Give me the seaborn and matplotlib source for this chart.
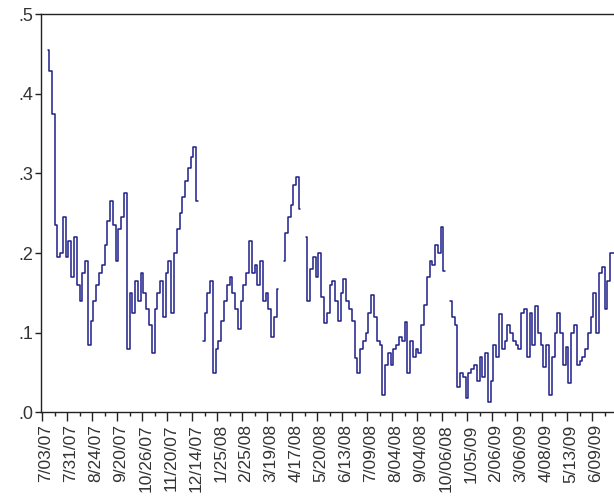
import numpy as np
import pandas as pd
import matplotlib
matplotlib.use("Agg")
import matplotlib.pyplot as plt
import matplotlib.transforms as mtransforms
import seaborn as sns

# one value per two trading days, nan = missing observation
ratio = [
    np.nan, np.nan, .455, .428, .374, .235, .195, .20, .245, .195,
    .215, .17, .22, .16, .14, .175, .19, .085, .115, .14,
    .16, .175, .185, .21, .24, .265, .235, .19, .23, .245,
    .275, .08, .15, .125, .165, .14, .175, .15, .13, .11,
    .075, .13, .15, .165, .12, .175, .19, .125, .20, .23,
    .25, .27, .29, .307, .32, .333, .265, np.nan, .09, .125,
    .15, .165, .05, .08, .09, .115, .14, .16, .17, .15,
    .13, .105, .14, .16, .175, .215, .175, .185, .16, .19,
    .14, .15, .13, .095, .12, .155, np.nan, .19, .225, .245,
    .26, .285, .295, .255, np.nan, .22, .14, .18, .195, .17,
    .20, .145, .112, .125, .16, .165, .14, .115, .15, .167,
    .14, .13, .115, .068, .05, .08, .09, .10, .125, .148,
    .12, .09, .085, .022, .06, .075, .06, .08, .085, .095,
    .09, .114, .05, .09, .07, .08, .075, .11, .135, .17,
    .19, .185, .21, .20, .233, .178, np.nan, .14, .12, .11,
    .032, .05, .045, .018, .05, .055, .06, .04, .07, .045,
    .075, .013, .04, .085, .07, .123, .08, .09, .11, .10,
    .09, .085, .08, .125, .13, .07, .125, .085, .134, .10,
    .085, .057, .085, .022, .07, .10, .125, .10, .06, .082,
    .037, .10, .11, .06, .065, .07, .08, .10, .12, .15,
    .10, .175, .183, .13, .165, .20, .20,
]

date_labels = [
    "7/03/07", "7/31/07", "8/24/07", "9/20/07", "10/26/07", "11/20/07",
    "12/14/07", "1/25/08", "2/25/08", "3/19/08", "4/17/08", "5/20/08",
    "6/13/08", "7/09/08", "8/04/08", "9/04/08", "10/06/08", "1/05/09",
    "2/06/09", "3/06/09", "4/08/09", "5/13/09", "6/09/09",
]
y_ticks = [0.0, 0.1, 0.2, 0.3, 0.4, 0.5]
y_labels = [".0", ".1", ".2", ".3", ".4", ".5"]
label_step = 9  # points between date labels

df = pd.DataFrame({"obs": np.arange(len(ratio)), "val": ratio})
df["seg"] = df["val"].isna().cumsum()
df = df.dropna()

sns.set_style("ticks")
plt.rcParams["font.family"] = ["Liberation Sans", "DejaVu Sans"]

fig = plt.figure(figsize=(6.14, 5.03), dpi=100)
ax = fig.add_axes([0.0663, 0.18, 0.9337, 0.792])

sns.lineplot(data=df, x="obs", y="val", units="seg", estimator=None,
             color="#1f1f8a", linewidth=1.1, drawstyle="steps-mid", ax=ax)

ax.set_xlim(-0.47, 205.9)
ax.set_ylim(0, 0.5)
ax.set_xticks(np.arange(len(date_labels)) * label_step)
ax.set_xticklabels(date_labels, rotation=90, fontsize=12.5, color="#333333")
ax.set_xticks(np.arange(len(date_labels)) * label_step + label_step / 2, minor=True)
ax.set_yticks(y_ticks)
ax.set_yticklabels(y_labels, fontsize=13, color="#333333")
ax.tick_params(axis="x", which="major", length=6.5, width=1.0, color="#222222", pad=2)
ax.tick_params(axis="x", which="minor", length=3, width=1.0, color="#222222")
ax.tick_params(axis="y", length=4.5, width=1.0, color="#222222", pad=1)
ax.set_xlabel("")
ax.set_ylabel("")

# labels sit a little right of their ticks
shift = mtransforms.ScaledTranslation(4 / 100, 0, fig.dpi_scale_trans)
for lab in ax.get_xticklabels():
    lab.set_transform(lab.get_transform() + shift)

for side in ["left", "bottom", "top"]:
    ax.spines[side].set_visible(True)
    ax.spines[side].set_color("#222222")
    ax.spines[side].set_linewidth(1.0)
ax.spines["right"].set_visible(False)

fig.savefig("out.png", dpi=100)
